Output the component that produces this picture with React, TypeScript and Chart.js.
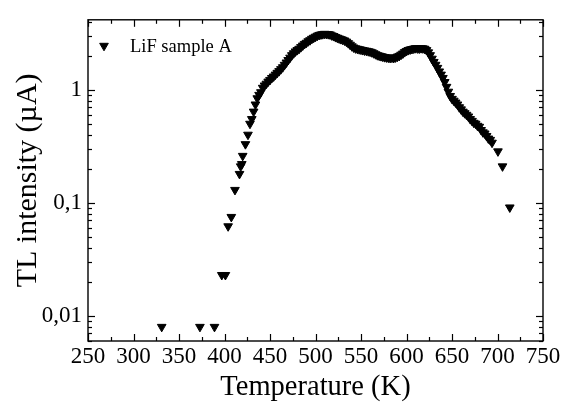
import React, { useEffect, useRef } from "react";
import { Chart, registerables } from "chart.js";

Chart.register(...registerables);

const seriesLabel = "LiF sample A";
const xTitle = "Temperature (K)";
const yTitle = "TL intensity (µA)";

const xTickValues = [250, 300, 350, 400, 450, 500, 550, 600, 650, 700, 750];
const yTickValues = [0.01, 0.1, 1];
const yTickLabels = ["0,01", "0,1", "1"];

const temperatures = [
  331, 373, 389, 397, 401, 404, 407.5, 411.5, 416.5, 417.8, 419, 420, 423, 425.8,
  428, 430, 432, 434, 436, 438, 440, 442, 444, 446, 448, 450, 452, 454, 456, 458,
  460, 462, 464, 466, 468, 470, 472, 474, 476, 478, 480, 482, 484, 486, 488, 490,
  492, 494, 496, 498, 500, 502, 504, 506, 508, 510, 512, 514, 516, 518, 520, 522,
  524, 526, 528, 530, 532, 534, 536, 538, 540, 542, 544, 546, 548, 550, 552, 554,
  556, 558, 560, 562, 564, 566, 568, 570, 572, 574, 576, 578, 580, 582, 584, 586,
  588, 590, 592, 594, 596, 598, 600, 602, 604, 606, 608, 610, 612, 614, 616, 618,
  620, 622, 624, 626, 628, 630, 632, 634, 636, 638, 640, 642, 644, 646, 648, 650,
  652, 654, 656, 658, 660, 662, 664, 666, 668, 670, 672, 674, 676, 678, 680, 682,
  684, 686, 688, 690, 692, 694, 700.5, 705.5, 713.5,
];

const intensities = [
  0.008, 0.008, 0.008, 0.023, 0.023, 0.062, 0.075, 0.13, 0.18, 0.21, 0.22, 0.26, 0.33, 0.4,
  0.5, 0.55, 0.64, 0.74, 0.84, 0.9, 0.95, 1.04, 1.09, 1.13, 1.18, 1.22, 1.27, 1.31, 1.36, 1.41,
  1.46, 1.52, 1.58, 1.66, 1.74, 1.83, 1.92, 2.02, 2.1, 2.18, 2.24, 2.3, 2.38, 2.46, 2.54, 2.6,
  2.68, 2.74, 2.82, 2.88, 2.94, 3.0, 3.05, 3.08, 3.1, 3.12, 3.11, 3.1, 3.08, 3.02, 2.98, 2.92,
  2.88, 2.84, 2.8, 2.76, 2.72, 2.66, 2.58, 2.5, 2.42, 2.36, 2.32, 2.3, 2.28, 2.26, 2.24, 2.22,
  2.21, 2.19, 2.17, 2.14, 2.1, 2.06, 2.02, 2.0, 1.98, 1.96, 1.94, 1.93, 1.92, 1.91, 1.92, 1.91,
  1.93, 1.96, 1.99, 2.04, 2.09, 2.15, 2.2, 2.24, 2.27, 2.29, 2.31, 2.33, 2.32, 2.31, 2.33, 2.32,
  2.3, 2.24, 2.14, 2.02, 1.88, 1.76, 1.66, 1.56, 1.45, 1.36, 1.27, 1.17, 1.06, 0.96, 0.88, 0.83,
  0.8, 0.77, 0.74, 0.7, 0.67, 0.64, 0.62, 0.6, 0.58, 0.55, 0.53, 0.51, 0.5, 0.48, 0.47, 0.44,
  0.42, 0.41, 0.39, 0.37, 0.36, 0.34, 0.285, 0.21, 0.091,
];

const FONT = "'Liberation Serif', 'Times New Roman', serif";

function drawDownTriangle(ctx: CanvasRenderingContext2D, x: number, y: number, r: number) {
  ctx.beginPath();
  ctx.moveTo(x, y + r);
  ctx.lineTo(x - 0.866 * r, y - 0.5 * r);
  ctx.lineTo(x + 0.866 * r, y - 0.5 * r);
  ctx.closePath();
  ctx.fill();
  ctx.stroke();
}

const framePlugin = {
  id: "frameTicksLegend",
  afterDraw(chart: any) {
    const { ctx, chartArea } = chart;
    const { left, right, top, bottom } = chartArea;
    const xs = chart.scales.x;
    const ys = chart.scales.y;
    ctx.save();
    ctx.strokeStyle = "#000";
    ctx.fillStyle = "#000";
    ctx.lineWidth = 1.4;
    ctx.strokeRect(left, top, right - left, bottom - top);
    ctx.lineWidth = 1.2;
    const line = (x1: number, y1: number, x2: number, y2: number) => {
      ctx.beginPath();
      ctx.moveTo(x1, y1);
      ctx.lineTo(x2, y2);
      ctx.stroke();
    };
    for (let v = xs.min; v <= xs.max + 0.001; v += 25) {
      const px = Math.round(xs.getPixelForValue(v)) + 0.5;
      const len = v % 50 === 0 ? 7 : 4;
      line(px, bottom, px, bottom - len);
      line(px, top, px, top + len);
    }
    for (let d = 0.001; d <= 10; d *= 10) {
      for (let m = 1; m <= 9; m++) {
        const v = m * d;
        if (v < ys.min || v > ys.max) continue;
        const py = Math.round(ys.getPixelForValue(v)) + 0.5;
        const len = m === 1 ? 7 : 4;
        line(left, py, left + len, py);
        line(right, py, right - len, py);
      }
    }
    ctx.lineWidth = 1;
    drawDownTriangle(ctx, left + 16, top + 26, 5);
    ctx.font = `18.5px ${FONT}`;
    ctx.textBaseline = "middle";
    ctx.textAlign = "left";
    ctx.fillText(seriesLabel, left + 42, top + 27);
    ctx.restore();
  },
};

export default function App() {
  const canvasRef = useRef<HTMLCanvasElement | null>(null);

  useEffect(() => {
    if (!canvasRef.current) return;
    const points = temperatures.map((t, i) => ({ x: t, y: intensities[i] }));
    const chart = new Chart(canvasRef.current, {
      type: "scatter",
      data: {
        datasets: [
          {
            label: seriesLabel,
            data: points,
            pointStyle: "triangle",
            rotation: 180,
            pointRadius: 5,
            borderWidth: 1,
            backgroundColor: "#000",
            borderColor: "#000",
            showLine: false,
          } as any,
        ],
      },
      options: {
        animation: false,
        responsive: false,
        maintainAspectRatio: false,
        events: [],
        layout: { padding: { top: 16, right: 21, left: 0, bottom: 0 } },
        plugins: {
          legend: { display: false },
          tooltip: { enabled: false },
        },
        scales: {
          x: {
            type: "linear",
            position: "bottom",
            min: 250,
            max: 750,
            grid: { display: false, drawTicks: false },
            border: { display: false },
            afterBuildTicks: (scale: any) => {
              scale.ticks = xTickValues.map((v) => ({ value: v }));
            },
            afterFit: (scale: any) => {
              scale.height = 77;
            },
            ticks: {
              color: "#000",
              font: { family: FONT, size: 23 },
              padding: 2,
              maxRotation: 0,
              autoSkip: false,
              callback: (v: any) => String(v),
            },
            title: {
              display: true,
              text: xTitle,
              color: "#000",
              font: { family: FONT, size: 28.5 },
              padding: { top: 0, bottom: 13 },
            },
          },
          y: {
            type: "logarithmic",
            min: 0.006,
            max: 4.15,
            grid: { display: false, drawTicks: false },
            border: { display: false },
            afterBuildTicks: (scale: any) => {
              scale.ticks = yTickValues.map((v) => ({ value: v }));
            },
            afterFit: (scale: any) => {
              scale.width = 88;
            },
            ticks: {
              color: "#000",
              font: { family: FONT, size: 23 },
              padding: 6,
              autoSkip: false,
              callback: (v: any) => {
                const idx = yTickValues.findIndex((t) => Math.abs(t - Number(v)) < t * 1e-6);
                return idx >= 0 ? yTickLabels[idx] : "";
              },
            },
            title: {
              display: true,
              text: yTitle,
              color: "#000",
              font: { family: FONT, size: 30 },
              padding: { top: 10, bottom: 0 },
            },
          },
        },
      },
      plugins: [framePlugin],
    });
    return () => chart.destroy();
  }, []);

  return (
    <div style={{ position: "absolute", left: 0, top: 0, width: 564, height: 418, background: "#fff" }}>
      <canvas ref={canvasRef} width={564} height={418} style={{ width: 564, height: 418 }} />
    </div>
  );
}
